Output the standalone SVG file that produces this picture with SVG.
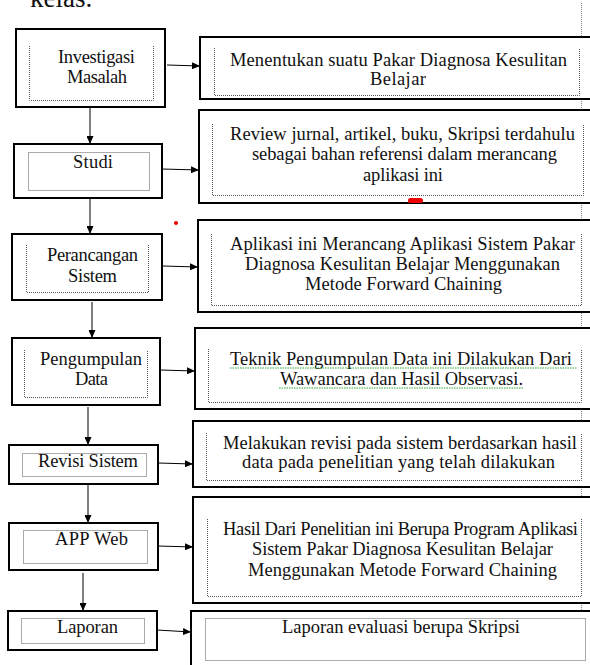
<svg xmlns="http://www.w3.org/2000/svg" width="590" height="665" viewBox="0 0 590 665">
<style>
.ob{fill:#fff;stroke:#000;stroke-width:2}
.ib{fill:none;stroke:#555;stroke-width:1;stroke-dasharray:1 1}
.t{font-family:"Liberation Serif","Times New Roman",serif;font-size:18.5px;fill:#111;text-anchor:middle}
.c{stroke:#000;stroke-width:1;fill:none;marker-end:url(#ah)}
.sq{fill:none;stroke:#3a3;stroke-width:1.2;stroke-dasharray:1.5 1}
</style>
<defs>
<marker id="ah" markerUnits="userSpaceOnUse" markerWidth="8" markerHeight="7" refX="8" refY="3.5" orient="auto">
<path d="M0,0 L8,3.5 L0,7 z" fill="#000"/>
</marker>
</defs>
<rect width="590" height="665" fill="#fff"/>
<text x="30" y="7" style="font-family:'Liberation Serif','Times New Roman',serif;font-size:27px;fill:#111">kelas.</text>
<line x1="581.5" y1="3" x2="581.5" y2="665" stroke="#888" stroke-width="1" stroke-dasharray="1 1"/>

<g id="connectors">
<line class="c" x1="167" y1="65" x2="200" y2="66"/>
<line class="c" x1="162" y1="169" x2="199" y2="170"/>
<line class="c" x1="163" y1="266" x2="198" y2="267"/>
<line class="c" x1="160" y1="370" x2="195" y2="371"/>
<line class="c" x1="158" y1="463" x2="193" y2="464"/>
<line class="c" x1="158" y1="546" x2="193" y2="547"/>
<line class="c" x1="157" y1="630" x2="191" y2="632"/>
<line class="c" x1="90" y1="108" x2="90" y2="144"/>
<line class="c" x1="90" y1="199" x2="90" y2="234"/>
<line class="c" x1="92" y1="302" x2="92" y2="338"/>
<line class="c" x1="88" y1="407" x2="88" y2="445"/>
<line class="c" x1="88" y1="485" x2="88" y2="523"/>
<line class="c" x1="83" y1="573" x2="83" y2="611"/>
</g>

<g id="investigasi">
<rect class="ob" x="16" y="29" width="149" height="78"/>
<path class="ib" d="M29.5,46 V100.5 H153.5 V46"/>
<text class="t" x="96.5" y="63" textLength="77" lengthAdjust="spacing">Investigasi</text>
<text class="t" x="97" y="83" textLength="60" lengthAdjust="spacing">Masalah</text>
</g>
<g id="studi">
<rect class="ob" x="14" y="144" width="148" height="54"/>
<rect class="ib" x="28.5" y="152.5" width="121" height="38"/>
<text class="t" x="93" y="168" textLength="40" lengthAdjust="spacing">Studi</text>
</g>
<g id="perancangan">
<rect class="ob" x="12" y="234" width="150" height="66"/>
<path class="ib" d="M26.5,245 V292.5 H148.5 V245"/>
<text class="t" x="92.5" y="261" textLength="91" lengthAdjust="spacing">Perancangan</text>
<text class="t" x="92.5" y="282" textLength="49" lengthAdjust="spacing">Sistem</text>
</g>
<g id="pengumpulan">
<rect class="ob" x="12" y="338" width="148" height="67"/>
<path class="ib" d="M24.5,350 V397.5 H147.5 V350"/>
<text class="t" x="91" y="365" textLength="102" lengthAdjust="spacing">Pengumpulan</text>
<text class="t" x="91.5" y="385" textLength="33" lengthAdjust="spacing">Data</text>
</g>
<g id="revisi">
<rect class="ob" x="9" y="445" width="149" height="39"/>
<rect class="ib" x="22.5" y="453.5" width="124" height="23"/>
<text class="t" x="88" y="467" textLength="100" lengthAdjust="spacing">Revisi Sistem</text>
</g>
<g id="appweb">
<rect class="ob" x="9" y="523" width="149" height="47"/>
<rect class="ib" x="23.5" y="530.5" width="124" height="33"/>
<text class="t" x="91.5" y="545" textLength="73" lengthAdjust="spacing">APP Web</text>
</g>
<g id="laporan">
<rect class="ob" x="8" y="611" width="149" height="39"/>
<rect class="ib" x="21.5" y="618.5" width="123" height="25"/>
<text class="t" x="87.5" y="633" textLength="61" lengthAdjust="spacing">Laporan</text>
</g>

<g id="r-investigasi">
<rect class="ob" x="200" y="37" width="400" height="62"/>
<path class="ib" d="M214.5,48 V95.5 H579.5 V48"/>
<text class="t" x="398.5" y="66" textLength="337" lengthAdjust="spacing">Menentukan suatu Pakar Diagnosa Kesulitan</text>
<text class="t" x="398" y="85" textLength="56" lengthAdjust="spacing">Belajar</text>
</g>
<g id="r-studi">
<rect class="ob" x="199" y="110" width="401" height="93"/>
<path class="ib" d="M212.5,124 V195.5 H583.5 V124"/>
<text class="t" x="402.5" y="140" textLength="345" lengthAdjust="spacing">Review jurnal, artikel, buku, Skripsi terdahulu</text>
<text class="t" x="404.5" y="160" textLength="305" lengthAdjust="spacing">sebagai bahan referensi dalam merancang</text>
<text class="t" x="403" y="181" textLength="80" lengthAdjust="spacing">aplikasi ini</text>
<rect x="408" y="198" width="15" height="5" rx="2.5" fill="#e00"/>
</g>
<circle cx="176" cy="223" r="2" fill="#e00"/>
<g id="r-perancangan">
<rect class="ob" x="198" y="220" width="402" height="92"/>
<path class="ib" d="M211.5,234 V305.5 H581.5 V234"/>
<text class="t" x="402.5" y="250" textLength="345" lengthAdjust="spacing">Aplikasi ini Merancang Aplikasi Sistem Pakar</text>
<text class="t" x="402.5" y="270" textLength="315" lengthAdjust="spacing">Diagnosa Kesulitan Belajar Menggunakan</text>
<text class="t" x="403.5" y="290" textLength="197" lengthAdjust="spacing">Metode Forward Chaining</text>
</g>
<g id="r-pengumpulan">
<rect class="ob" x="195" y="328" width="405" height="81"/>
<path class="ib" d="M208.5,349 V402.5 H581.5 V349"/>
<text class="t" x="401" y="365" textLength="342" lengthAdjust="spacing">Teknik Pengumpulan Data ini Dilakukan Dari</text>
<text class="t" x="401.5" y="385" textLength="243" lengthAdjust="spacing">Wawancara dan Hasil Observasi.</text>
<line class="sq" x1="230" y1="368" x2="577" y2="368"/>
<line class="sq" x1="279" y1="388" x2="523" y2="388"/>
</g>
<g id="r-revisi">
<rect class="ob" x="193" y="421" width="407" height="66"/>
<path class="ib" d="M206.5,433 V480.5 H581.5 V433"/>
<text class="t" x="400" y="449" textLength="354" lengthAdjust="spacing">Melakukan revisi pada sistem berdasarkan hasil</text>
<text class="t" x="398.5" y="468" textLength="313" lengthAdjust="spacing">data pada penelitian yang telah dilakukan</text>
</g>
<g id="r-appweb">
<rect class="ob" x="193" y="497" width="407" height="106"/>
<path class="ib" d="M207.5,519 V596.5 H581.5 V519"/>
<text class="t" x="400.5" y="535" textLength="355" lengthAdjust="spacing">Hasil Dari Penelitian ini Berupa Program Aplikasi</text>
<text class="t" x="402.5" y="555" textLength="301" lengthAdjust="spacing">Sistem Pakar Diagnosa Kesulitan Belajar</text>
<text class="t" x="402.5" y="576" textLength="309" lengthAdjust="spacing">Menggunakan Metode Forward Chaining</text>
</g>
<g id="r-laporan">
<rect class="ob" x="191" y="611" width="409" height="60"/>
<rect class="ib" x="205.5" y="618.5" width="380" height="42"/>
<text class="t" x="401" y="633" textLength="238" lengthAdjust="spacing">Laporan evaluasi berupa Skripsi</text>
</g>
</svg>
